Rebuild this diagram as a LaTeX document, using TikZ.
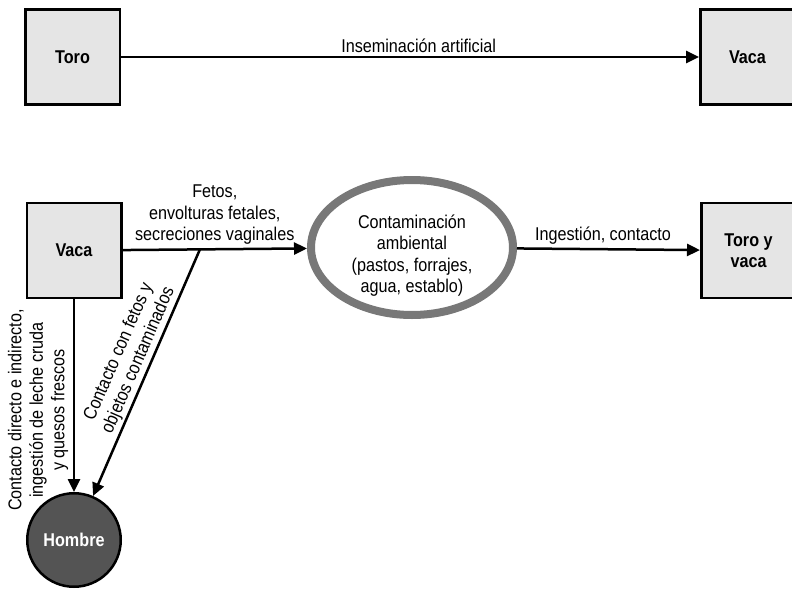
\documentclass[tikz,border=0pt]{standalone}
\usepackage{fontspec}
\setmainfont{Liberation Sans}[FakeStretch=0.875]
\usetikzlibrary{shapes.geometric,arrows.meta,calc}

\definecolor{boxgray}{rgb}{0.900000, 0.900000, 0.900000}
\definecolor{ringgray}{rgb}{0.470000, 0.470000, 0.470000}
\definecolor{mangray}{rgb}{0.330000, 0.330000, 0.330000}
\newcommand{\txt}{\fontsize{18.5}{21.5}\selectfont}

\begin{document}
\begin{tikzpicture}[x=1pt,y=-1pt,
  every node/.style={font=\txt},
  animal/.style={draw=black,fill=boxgray,line width=2.5pt,minimum width=94.5pt,
    minimum height=95pt,inner sep=0pt,align=center,font=\txt\bfseries},
  ambiente/.style={ellipse,draw=ringgray,fill=white,line width=8pt,minimum width=202pt,
    minimum height=135pt,inner sep=0pt},
  hombre/.style={circle,draw=black,fill=mangray,line width=2.5pt,minimum size=93.5pt,
    inner sep=0pt,text=white,font=\txt\bfseries},
  flecha/.style={line width=2.5pt,-{Triangle[length=13pt,width=12pt]}}]
\useasboundingbox (0,0) rectangle (792,589);

% primera fila
\node[animal] (toro) at (72.5,57) {Toro};
\node[animal] (vacaA) at (747.5,57) {Vaca};
\draw[flecha] (toro) -- (vacaA) node[pos=0.515, above] {Inseminación artificial};

% segunda fila
\node[animal] (vacaB) at (74,250.5) {Vaca};
\node[ambiente] (contam) at (412,247.5) {};
\node[align=center] (contamtxt) at ([yshift=-8pt]contam.center)
  {Contaminación\\ambiental\\(pastos, forrajes,\\agua, establo)};
\node[animal] (ambos) at (748.5,250.5) {Toro y\\vaca};
\node[hombre] (hombre) at (74,540) {Hombre};

\draw[flecha] (vacaB) -- (contam)
  node[midway, above, align=center] {Fetos,\\envolturas fetales,\\secreciones vaginales};
\draw[flecha] (contam) -- (ambos) node[pos=0.47, above] {Ingestión, contacto};

% hacia el hombre
\coordinate (bifur) at ($(vacaB.east)!0.42!(contam.west)$);
\draw[flecha] (vacaB) -- (hombre);
\draw[flecha] (bifur) -- (hombre);
\path (hombre) -- (bifur)
  node[pos=0.53, sloped, above, align=center] {Contacto con fetos y\\objetos contaminados};
\node[rotate=90, align=center] (viadirecta) at (38,410)
  {Contacto directo e indirecto,\\ingestión de leche cruda\\y quesos frescos};
\end{tikzpicture}
\end{document}
